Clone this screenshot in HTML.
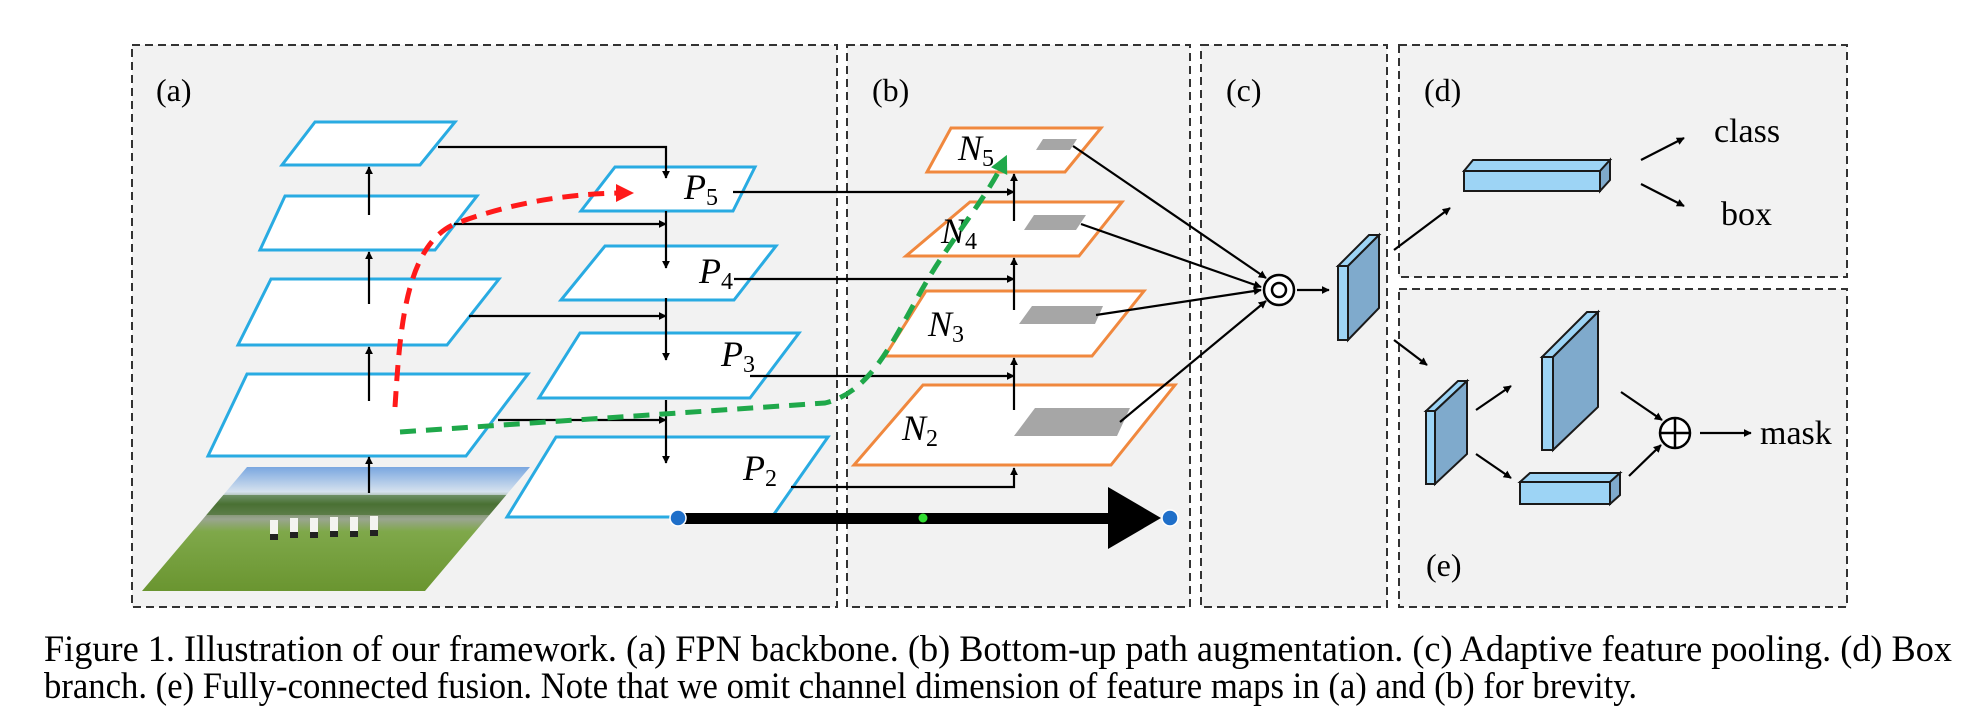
<!DOCTYPE html>
<html><head><meta charset="utf-8"><style>
html,body{margin:0;padding:0;background:#fff;}
svg{display:block;}
text{font-family:"Liberation Serif","DejaVu Serif",serif;}
</style></head><body>
<svg width="1976" height="718" viewBox="0 0 1976 718" xmlns="http://www.w3.org/2000/svg">
<defs>
<marker id="ah" viewBox="0 0 10 10" refX="9" refY="5" markerWidth="8" markerHeight="8" orient="auto" markerUnits="userSpaceOnUse"><path d="M0,0 L10,5 L0,10 z" fill="#000"/></marker>
<marker id="ahr" viewBox="0 0 10 10" refX="5" refY="5" markerWidth="18" markerHeight="18" orient="auto" markerUnits="userSpaceOnUse"><path d="M0,0 L10,5 L0,10 z" fill="#ff1a1a"/></marker>
<marker id="ahg" viewBox="0 0 10 10" refX="5" refY="5" markerWidth="18" markerHeight="18" orient="auto" markerUnits="userSpaceOnUse"><path d="M0,0 L10,5 L0,10 z" fill="#1fa84a"/></marker>
<linearGradient id="photo" x1="0" y1="0" x2="0" y2="1">
<stop offset="0" stop-color="#7aa7e0"/><stop offset="0.2" stop-color="#d6e2ee"/>
<stop offset="0.3" stop-color="#5a7a42"/><stop offset="0.42" stop-color="#9aa590"/>
<stop offset="0.52" stop-color="#7fa84a"/><stop offset="1" stop-color="#6a9530"/>
</linearGradient>
<clipPath id="pc"><polygon points="247,467 530,467 425,591 142,591"/></clipPath>
</defs>

<g fill="#f2f2f2" stroke="#333" stroke-width="2" stroke-dasharray="8,5">
<rect x="132" y="45" width="705" height="562"/>
<rect x="847" y="45" width="343" height="562"/>
<rect x="1201" y="45" width="186" height="562"/>
<rect x="1399" y="45" width="448" height="232"/>
<rect x="1399" y="289" width="448" height="318"/>
</g>

<g font-size="32" fill="#000">
<text x="156" y="101">(a)</text>
<text x="872" y="101">(b)</text>
<text x="1226" y="101">(c)</text>
<text x="1424" y="101">(d)</text>
<text x="1426" y="576">(e)</text>
</g>

<polygon points="247,467 530,467 425,591 142,591" fill="url(#photo)"/>
<g clip-path="url(#pc)">
<rect x="140" y="495" width="400" height="20" fill="#3f6a2a" opacity="0.6"/>
<g fill="#f4f4f0">
<rect x="270" y="520" width="8" height="14"/><rect x="290" y="518" width="8" height="14"/><rect x="310" y="518" width="8" height="14"/>
<rect x="330" y="517" width="8" height="14"/><rect x="350" y="517" width="8" height="14"/><rect x="370" y="516" width="8" height="14"/>
</g>
<g fill="#222"><rect x="270" y="534" width="8" height="6"/><rect x="290" y="532" width="8" height="6"/><rect x="310" y="532" width="8" height="6"/><rect x="330" y="531" width="8" height="6"/><rect x="350" y="531" width="8" height="6"/><rect x="370" y="530" width="8" height="6"/></g>
</g>

<g fill="#fff" stroke="#29abe2" stroke-width="3">
<polygon points="315,122 455,122 420,165 282,165"/>
<polygon points="285,196 477,196 435,250 260,250"/>
<polygon points="271,279 499,279 447,345 238,345"/>
<polygon points="247,374 528,374 466,456 208,456"/>
</g>
<g stroke="#000" stroke-width="2.2" fill="none" marker-end="url(#ah)">
<line x1="369" y1="493" x2="369" y2="457"/>
<line x1="369" y1="401" x2="369" y2="347"/>
<line x1="369" y1="304" x2="369" y2="252"/>
<line x1="369" y1="215" x2="369" y2="167"/>
</g>

<g fill="#fff" stroke="#29abe2" stroke-width="3">
<polygon points="615,167 755,167 733,211 581,211"/>
<polygon points="605,246 776,246 734,300 561,300"/>
<polygon points="580,333 799,333 750,398 539,398"/>
<polygon points="556,437 828,437 772,517 507,517"/>
</g>
<g stroke="#000" stroke-width="2.2" fill="none" marker-end="url(#ah)">
<polyline points="438,147 666,147 666,178"/>
<line x1="666" y1="211" x2="666" y2="268"/>
<line x1="666" y1="298" x2="666" y2="360"/>
<line x1="666" y1="400" x2="666" y2="463"/>
<line x1="454" y1="224" x2="666" y2="224"/>
<line x1="469" y1="316" x2="666" y2="316"/>
<line x1="498" y1="420" x2="666" y2="420"/>
</g>
<g font-size="36" font-style="italic" fill="#000">
<text x="684" y="199">P<tspan font-size="24" dy="6" font-style="normal">5</tspan></text>
<text x="699" y="283">P<tspan font-size="24" dy="6" font-style="normal">4</tspan></text>
<text x="721" y="366">P<tspan font-size="24" dy="6" font-style="normal">3</tspan></text>
<text x="743" y="480">P<tspan font-size="24" dy="6" font-style="normal">2</tspan></text>
</g>

<g fill="#fff" stroke="#f0883e" stroke-width="3">
<polygon points="951,128 1101,128 1065,172 927,172"/>
<polygon points="970,202 1122,202 1079,256 906,256"/>
<polygon points="926,291 1144,291 1092,356 885,356"/>
<polygon points="923,385 1175,385 1111,465 854,465"/>
</g>
<g fill="#a6a6a6">
<polygon points="1043,139 1077,139 1070,150 1036,150"/>
<polygon points="1034,215 1086,215 1076,230 1024,230"/>
<polygon points="1032,306 1103,306 1095,324 1019,324"/>
<polygon points="1035,408 1130,408 1117,436 1014,436"/>
</g>
<g font-size="36" font-style="italic" fill="#000">
<text x="958" y="160">N<tspan font-size="24" dy="6" font-style="normal">5</tspan></text>
<text x="941" y="243">N<tspan font-size="24" dy="6" font-style="normal">4</tspan></text>
<text x="928" y="336">N<tspan font-size="24" dy="6" font-style="normal">3</tspan></text>
<text x="902" y="440">N<tspan font-size="24" dy="6" font-style="normal">2</tspan></text>
</g>
<g stroke="#000" stroke-width="2.2" fill="none" marker-end="url(#ah)">
<polyline points="733,192 1014,192"/>
<polyline points="734,279 1014,279"/>
<polyline points="750,376 1014,376"/>
<polyline points="791,487 1014,487 1014,468"/>
<line x1="1014" y1="410" x2="1014" y2="358"/>
<line x1="1014" y1="310" x2="1014" y2="258"/>
<line x1="1014" y1="221" x2="1014" y2="174"/>
<line x1="1073" y1="146" x2="1266" y2="278"/>
<line x1="1081" y1="224" x2="1261" y2="287"/>
<line x1="1096" y1="315" x2="1261" y2="290"/>
<line x1="1120" y1="422" x2="1266" y2="301"/>
<line x1="1297" y1="290" x2="1329" y2="290"/>
<line x1="1394" y1="250" x2="1450" y2="208"/>
<line x1="1394" y1="340" x2="1427" y2="365"/>
<line x1="1641" y1="160" x2="1684" y2="138"/>
<line x1="1641" y1="184" x2="1684" y2="206"/>
<line x1="1476" y1="410" x2="1511" y2="386"/>
<line x1="1476" y1="454" x2="1511" y2="478"/>
<line x1="1621" y1="392" x2="1662" y2="420"/>
<line x1="1629" y1="476" x2="1661" y2="445"/>
<line x1="1700" y1="433" x2="1751" y2="433"/>
</g>

<path d="M395,407 C400,330 405,240 460,222 C520,200 580,193 625,193" fill="none" stroke="#ff1a1a" stroke-width="5" stroke-dasharray="16,10" marker-end="url(#ahr)"/>
<path d="M400,432 L825,403 C880,390 900,320 940,260 C970,215 990,190 1003,163" fill="none" stroke="#1fa84a" stroke-width="5" stroke-dasharray="16,10" marker-end="url(#ahg)"/>

<circle cx="1279" cy="290" r="15" fill="#fff" stroke="#000" stroke-width="2.5"/>
<circle cx="1279" cy="290" r="7" fill="#fff" stroke="#000" stroke-width="2.5"/>

<g stroke="#1a1a1a" stroke-width="2">
<polygon points="1338,266 1348,266 1379,235 1369,235" fill="#9dd4f5"/>
<polygon points="1348,266 1379,235 1379,308 1348,340" fill="#7faacc"/>
<rect x="1338" y="266" width="10" height="74" fill="#9dd4f5"/>
<polygon points="1464,171 1600,171 1610,160 1473,160" fill="#9dd4f5"/>
<polygon points="1600,171 1610,160 1610,180 1600,191" fill="#7faacc"/>
<rect x="1464" y="171" width="136" height="20" fill="#9dd4f5"/>
<polygon points="1426,411 1435,411 1467,381 1458,381" fill="#9dd4f5"/>
<polygon points="1435,411 1467,381 1467,454 1435,484" fill="#7faacc"/>
<rect x="1426" y="411" width="9" height="73" fill="#9dd4f5"/>
<polygon points="1542,357 1553,357 1598,312 1587,312" fill="#9dd4f5"/>
<polygon points="1553,357 1598,312 1598,407 1553,450" fill="#7faacc"/>
<rect x="1542" y="357" width="11" height="93" fill="#9dd4f5"/>
<polygon points="1520,482 1610,482 1620,473 1530,473" fill="#9dd4f5"/>
<polygon points="1610,482 1620,473 1620,495 1610,504" fill="#7faacc"/>
<rect x="1520" y="482" width="90" height="22" fill="#9dd4f5"/>
</g>

<circle cx="1675" cy="433" r="15" fill="#fff" stroke="#000" stroke-width="2.5"/>
<line x1="1660" y1="433" x2="1690" y2="433" stroke="#000" stroke-width="2.5"/>
<line x1="1675" y1="418" x2="1675" y2="448" stroke="#000" stroke-width="2.5"/>

<g font-size="34" fill="#000">
<text x="1714" y="142">class</text>
<text x="1721" y="225">box</text>
<text x="1760" y="444">mask</text>
</g>

<rect x="678" y="513" width="432" height="11" fill="#000"/>
<polygon points="1108,487 1161,518 1108,549" fill="#000"/>
<circle cx="678" cy="518" r="8" fill="#1f6fc9" stroke="#fff" stroke-width="1.5"/>
<circle cx="1170" cy="518" r="8" fill="#1f6fc9" stroke="#fff" stroke-width="1.5"/>
<circle cx="923" cy="518" r="4.5" fill="#33dd33"/>

<g font-size="37" fill="#000">
<text x="44" y="661" textLength="1908" lengthAdjust="spacingAndGlyphs">Figure 1. Illustration of our framework.  (a) FPN backbone.  (b) Bottom-up path augmentation.  (c) Adaptive feature pooling.  (d) Box</text>
<text x="44" y="698" textLength="1593" lengthAdjust="spacingAndGlyphs">branch. (e) Fully-connected fusion. Note that we omit channel dimension of feature maps in (a) and (b) for brevity.</text>
</g>
</svg>
</body></html>
